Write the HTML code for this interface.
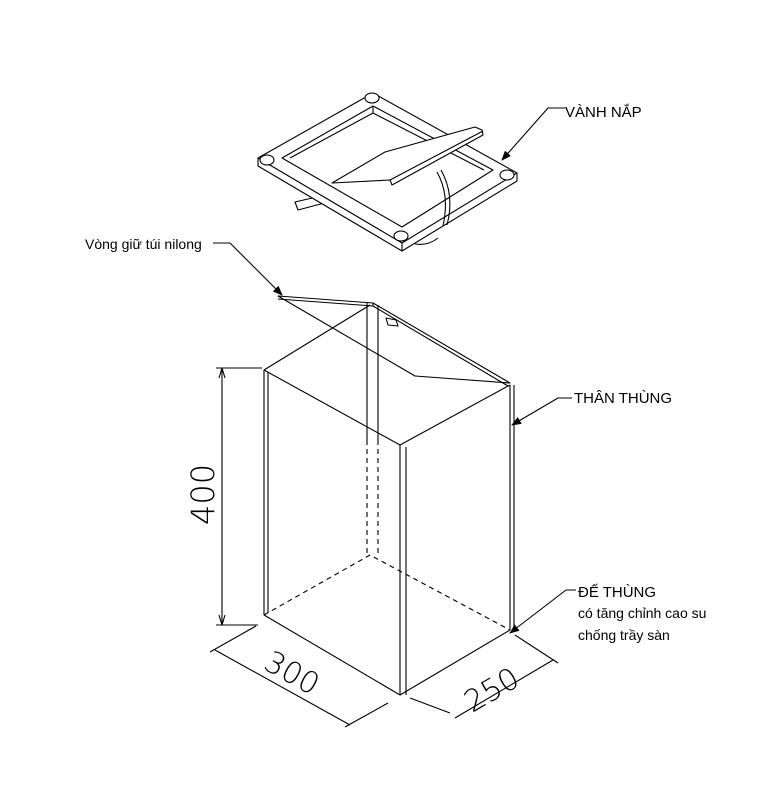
<!DOCTYPE html>
<html><head><meta charset="utf-8"><style>
html,body{margin:0;padding:0;background:#fff;width:784px;height:789px;overflow:hidden}
svg{display:block}
text{font-family:"Liberation Sans",sans-serif;fill:#000}
</style></head><body>
<svg width="784" height="789" viewBox="0 0 784 789" xmlns="http://www.w3.org/2000/svg">
<defs><marker id="a" markerWidth="10" markerHeight="8" refX="9" refY="4" orient="auto" markerUnits="userSpaceOnUse"><path d="M0,0 L10,4 L0,8 z" fill="#000"/></marker></defs>
<g fill="none" stroke="#000" stroke-width="1.1" stroke-linejoin="round">
<!-- lid rim -->
<path d="M415,244 Q428,246 438,238"/>
<path d="M390,180 L295,202 L298,210 L392,185 Z" fill="#fff"/>
<path d="M258,158 L258,166 L402,251 L517,181 L517,173 L373,93 Z" fill="#fff" stroke="none"/>
<path d="M258,158 L258,166 L402,251 L517,181 L517,173"/>
<path d="M258,158 L373,93 L517,173 L402,243 Z M282,158 L402,227 L493,170 L373,106 Z" fill="#fff" fill-rule="evenodd"/>
<path d="M402,243 L402,251"/>
<path d="M373,106 L373,113 M373,113 L484,170 M373,113 L290,158"/>
<path d="M437,172 Q450,195 443,226 M441,170 Q455,195 447,225"/>
<path d="M475,127 L385,152 L332,183 L390,180 L392,185 L483,135 L482,130 Z" fill="#fff"/>
<path d="M390,180 L483,131"/>
<ellipse cx="372" cy="98" rx="7" ry="5" fill="#fff"/>
<ellipse cx="267" cy="160" rx="7" ry="5" fill="#fff"/>
<ellipse cx="507" cy="175" rx="7" ry="5" fill="#fff"/>
<ellipse cx="401" cy="236" rx="7" ry="5" fill="#fff"/>
<!-- body -->
<path d="M264,370 L370,305 M264,370 L400,445 L510,385"/>
<path d="M264,370 L264,615 M268,372 L268,613 M400,445 L400,695 M406,447 L406,695 M510,385 L510,630 M514,385 L514,628"/>
<path d="M264,615 L400,695 L510,630"/>
<path d="M367,303 L367,440 M378,305 L378,440"/>
<path d="M367,440 L367,555 M378,440 L378,555 M264,615 L370,555 L510,630" stroke-dasharray="5,4"/>
<!-- bag ring -->
<path d="M278,296 L373,303 L510,383 L415,376 Z"/>
<path d="M278,299 L373,306 L508,386 M373,303 L373,306"/>
<path d="M386,318 L396,320 L398,326 L388,325 Z"/>
<!-- leaders -->
<path d="M565,108 L548,108 L502,160" marker-end="url(#a)"/>
<path d="M213,243 L230,243 L282,295" marker-end="url(#a)"/>
<path d="M572,398 L558,398 L512,425" marker-end="url(#a)"/>
<path d="M576,590 L566,590 L510,633" marker-end="url(#a)"/>
<!-- dims -->
<path d="M222,368 L222,625 M216,368 L262,368 M216,625 L258,625"/>
<path d="M222,368 l-3,10 M222,368 l3,10 M222,625 l-3,-10 M222,625 l3,-10"/>
<path d="M215,650 L350,725 M210,652 L256,626 M345,727 L388,703"/>
<path d="M455,718 L553,660 M450,713 L410,698 M558,663 L515,635"/>
</g>
<text x="565" y="117" font-size="15">VÀNH NẮP</text>
<text x="85" y="249" font-size="14">Vòng giữ túi nilong</text>
<text x="574" y="403" font-size="15">THÂN THÙNG</text>
<text x="578" y="597" font-size="15">ĐẾ THÙNG</text>
<text x="578" y="618" font-size="14">có tăng chỉnh cao su</text>
<text x="578" y="640" font-size="14">chống trầy sàn</text>
<text transform="translate(214,525) rotate(-90)" font-size="32" style="font-family:'DejaVu Sans',sans-serif;font-weight:200">400</text>
<text transform="translate(262,668) rotate(29)" font-size="30" style="font-family:'DejaVu Sans',sans-serif;font-weight:200">300</text>
<text transform="translate(472,713) rotate(-30)" font-size="30" style="font-family:'DejaVu Sans',sans-serif;font-weight:200">250</text>
</svg>
</body></html>
